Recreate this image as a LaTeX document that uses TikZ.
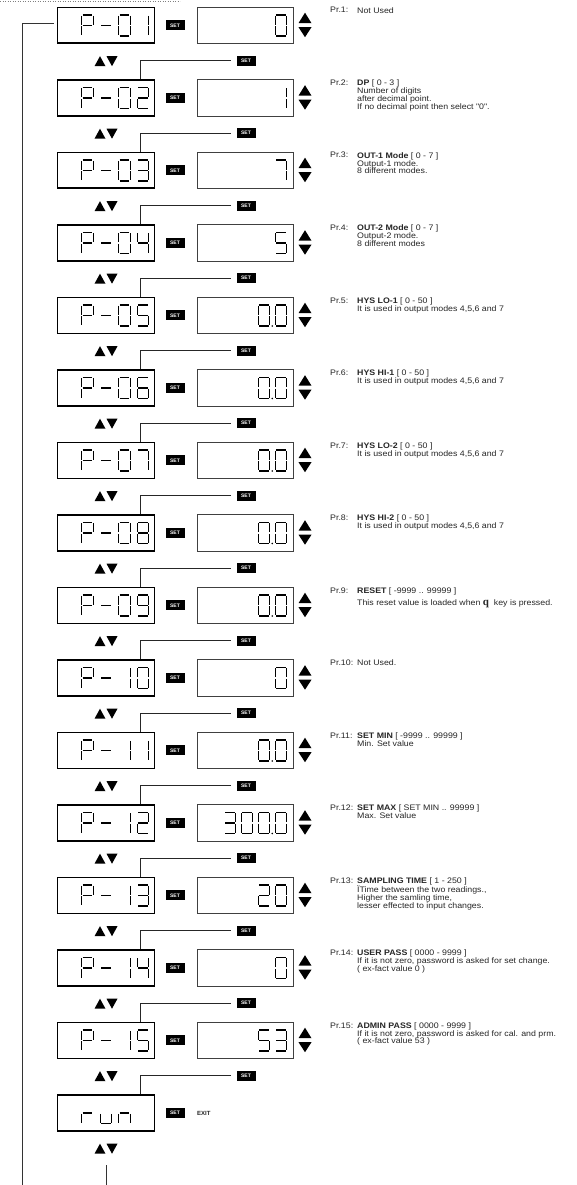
\documentclass[tikz,border=0pt]{standalone}
\usepackage{fontspec}
\setmainfont{Liberation Sans}
\newfontfamily\descfont[FakeStretch=1.1]{Liberation Sans}
\newfontfamily\serifq{Liberation Serif}
% seven segment pieces (cell 11.5 x 21, origin top-left, y downwards)
\newcommand\sgxa{\draw[seg] (0.9,0) -- (10.6,0);}
\newcommand\sgxb{\draw[seg] (11.5,0.9) -- (11.5,9.7);}
\newcommand\sgxc{\draw[seg] (11.5,11.3) -- (11.5,20.1);}
\newcommand\sgxd{\draw[seg] (0.9,21) -- (10.6,21);}
\newcommand\sgxe{\draw[seg] (0,11.3) -- (0,20.1);}
\newcommand\sgxf{\draw[seg] (0,0.9) -- (0,9.7);}
\newcommand\sgxg{\draw[seg] (0.9,10.5) -- (10.6,10.5);}
\expandafter\def\csname dg0\endcsname{a,b,c,d,e,f}
\expandafter\def\csname dg1\endcsname{b,c}
\expandafter\def\csname dg2\endcsname{a,b,g,e,d}
\expandafter\def\csname dg3\endcsname{a,b,g,c,d}
\expandafter\def\csname dg4\endcsname{f,g,b,c}
\expandafter\def\csname dg5\endcsname{a,f,g,c,d}
\expandafter\def\csname dg6\endcsname{a,f,g,e,d,c}
\expandafter\def\csname dg7\endcsname{a,b,c}
\expandafter\def\csname dg8\endcsname{a,b,c,d,e,f,g}
\expandafter\def\csname dg9\endcsname{a,b,c,d,f,g}
\expandafter\def\csname dgP\endcsname{a,b,e,f,g}
\expandafter\def\csname dg-\endcsname{g}
\expandafter\def\csname dgr\endcsname{e,g}
\expandafter\def\csname dgu\endcsname{c,d,e}
\expandafter\def\csname dgn\endcsname{c,e,g}
\newcommand\sdig[3]{\begin{scope}[shift={(#1,#2)}]\edef\seglist{\csname dg#3\endcsname}\foreach \s in \seglist {\csname sgx\s\endcsname}\end{scope}}
% left display row: #1 index, #2 #3 #4 characters in cells 1..3
\newcommand\prow[4]{%
  \pgfmathsetmacro\T{6.7+(#1-1)*72.5}%
  \node[lbox] (lb#1) at (106,\T+18.7) {};
  \sdig{81.7}{\T+8.3}{#2}\sdig{100.2}{\T+8.3}{#3}\sdig{118.7}{\T+8.3}{#4}%
  \node[setbtn] (sm#1) at (175,\T+18.7) {SET};
  \fill[tri] (94.5,\T+59.5) -- (105.5,\T+59.5) -- (100,\T+49.5) -- cycle;
  \fill[tri] (106.5,\T+49.5) -- (117.5,\T+49.5) -- (112,\T+59.5) -- cycle;
}
\newcommand\lastdig[2]{\pgfmathsetmacro\T{6.7+(#1-1)*72.5}\sdig{137.2}{\T+8.3}{#2}}
\newcommand\toplink[1]{%
  \pgfmathsetmacro\T{6.7+(#1-1)*72.5}%
  \node[setbtn] (st#1) at (246,\T-18.5) {SET};
  \draw[conn, shorten >=5pt] ([xshift=34pt]lb#1.north) |- (st#1.west);
}
\newcommand\vrow[1]{%
  \pgfmathsetmacro\T{6.7+(#1-1)*72.5}%
  \node[vbox] (vb#1) at (245.3,\T+18.7) {};
  \fill[tri] (298.5,\T+16.5) -- (311.5,\T+16.5) -- (305,\T+6) -- cycle;
  \fill[tri] (298.5,\T+20.5) -- (311.5,\T+20.5) -- (305,\T+30.5) -- cycle;
}
% value digit: #1 row, #2 cell from right, #3 char
\newcommand\vdig[3]{\pgfmathsetmacro\T{6.7+(#1-1)*72.5}\pgfmathsetmacro\X{275.3-17*#2}\sdig{\X}{\T+8.3}{#3}}
\newcommand\vdot[2]{\pgfmathsetmacro\T{6.7+(#1-1)*72.5}\pgfmathsetmacro\X{275.3-17*#2+13.9}\fill (\X,\T+29.3) circle (0.85);}
\newcommand\txt[3]{%
  \pgfmathsetmacro\T{6.7+(#1-1)*72.5}%
  \node[prlab] (pr#1) at (330,\T+6.3) {#2};
  \node[desc] (ds#1) at (357,\T+0.6) {#3};
}
\begin{document}
\begin{tikzpicture}[x=1pt,y=-1pt,
  lbox/.style={draw, line width=1.6pt, minimum width=96.8pt, minimum height=35.8pt, inner sep=0},
  vbox/.style={draw=black!75, line width=0.7pt, minimum width=96.6pt, minimum height=36.4pt, inner sep=0},
  setbtn/.style={fill=black, text=white, font=\fontsize{5}{5}\selectfont\bfseries, minimum width=19pt, minimum height=10pt, inner sep=0},
  seg/.style={line width=1.35pt, line cap=butt},
  tri/.style={fill=black},
  conn/.style={line width=0.6pt, draw=black!85},
  loop/.style={line width=0.8pt, draw=black!80},
  prlab/.style={anchor=base west, inner sep=0, text=black!85, font=\descfont\fontsize{8}{7.8}\selectfont},
  desc/.style={anchor=north west, inner sep=0, align=left, text=black!85, font=\descfont\fontsize{8}{7.8}\selectfont},
]
\useasboundingbox (0,0) rectangle (577,1185);
\fill[white] (0,0) rectangle (577,1185);
\draw[gray, dotted, line width=0.5pt] (0,0.8) -- (180,0.8);

\prow{1}{P}{-}{0}\lastdig{1}{1}
\prow{2}{P}{-}{0}\lastdig{2}{2}
\prow{3}{P}{-}{0}\lastdig{3}{3}
\prow{4}{P}{-}{0}\lastdig{4}{4}
\prow{5}{P}{-}{0}\lastdig{5}{5}
\prow{6}{P}{-}{0}\lastdig{6}{6}
\prow{7}{P}{-}{0}\lastdig{7}{7}
\prow{8}{P}{-}{0}\lastdig{8}{8}
\prow{9}{P}{-}{0}\lastdig{9}{9}
\prow{10}{P}{-}{1}\lastdig{10}{0}
\prow{11}{P}{-}{1}\lastdig{11}{1}
\prow{12}{P}{-}{1}\lastdig{12}{2}
\prow{13}{P}{-}{1}\lastdig{13}{3}
\prow{14}{P}{-}{1}\lastdig{14}{4}
\prow{15}{P}{-}{1}\lastdig{15}{5}
\prow{16}{r}{u}{n}
\foreach \i in {2,...,16} {\toplink{\i}}

\foreach \i in {1,...,15} {\vrow{\i}}
\vdig{1}{0}{0}
\vdig{2}{0}{1}
\vdig{3}{0}{7}
\vdig{4}{0}{5}
\foreach \i in {5,6,7,8,9,11} {\vdig{\i}{1}{0}\vdot{\i}{1}\vdig{\i}{0}{0}}
\vdig{10}{0}{0}
\vdig{12}{3}{3}\vdig{12}{2}{0}\vdig{12}{1}{0}\vdot{12}{1}\vdig{12}{0}{0}
\vdig{13}{1}{2}\vdig{13}{0}{0}
\vdig{14}{0}{0}
\vdig{15}{1}{5}\vdig{15}{0}{3}

\node[anchor=west, inner sep=0, text=black!85, font=\fontsize{6}{6}\selectfont\bfseries] (exit) at (197,1113) {EXIT};

% loop back line and bottom line
\coordinate (loopbot) at (22,1185);
\draw[loop, shorten >=3pt] (loopbot) |- ([yshift=2pt]lb1.west);
\coordinate (runout) at (106,1165);
\coordinate (botc) at (106,1185);
\draw[loop] (runout) -- (botc);

\txt{1}{Pr.1:}{Not Used}
\txt{2}{Pr.2:}{\textbf{DP} [ 0 - 3 ]\\Number of digits\\after decimal point.\\If no decimal point then select "0".}
\txt{3}{Pr.3:}{\textbf{OUT-1 Mode} [ 0 - 7 ]\\Output-1 mode.\\8 different modes.}
\txt{4}{Pr.4:}{\textbf{OUT-2 Mode} [ 0 - 7 ]\\Output-2 mode.\\8 different modes}
\txt{5}{Pr.5:}{\textbf{HYS LO-1} [ 0 - 50 ]\\It is used in output modes 4,5,6 and 7}
\txt{6}{Pr.6:}{\textbf{HYS HI-1} [ 0 - 50 ]\\It is used in output modes 4,5,6 and 7}
\txt{7}{Pr.7:}{\textbf{HYS LO-2} [ 0 - 50 ]\\It is used in output modes 4,5,6 and 7}
\txt{8}{Pr.8:}{\textbf{HYS HI-2} [ 0 - 50 ]\\It is used in output modes 4,5,6 and 7}
\txt{9}{Pr.9:}{\textbf{RESET} [ -9999 .. 99999 ]\\[4pt]This reset value is loaded when {\serifq\bfseries\fontsize{11}{11}\selectfont q}\ \ key is pressed.}
\txt{10}{Pr.10:}{Not Used.}
\txt{11}{Pr.11:}{\textbf{SET MIN} [ -9999 .. 99999 ]\\Min. Set value}
\txt{12}{Pr.12:}{\textbf{SET MAX} [ SET MIN .. 99999 ]\\Max. Set value}
\txt{13}{Pr.13:}{\textbf{SAMPLING TIME} [ 1 - 250 ]\\ÏTime between the two readings.,\\Higher the samling time,\\lesser effected to input changes.}
\txt{14}{Pr.14:}{\textbf{USER PASS} [ 0000 - 9999 ]\\If it is not zero, password is asked for set change.\\( ex-fact value 0 )}
\txt{15}{Pr.15:}{\textbf{ADMIN PASS} [ 0000 - 9999 ]\\If it is not zero, password is asked for cal. and prm.\\( ex-fact value 53 )}
\end{tikzpicture}
\end{document}
